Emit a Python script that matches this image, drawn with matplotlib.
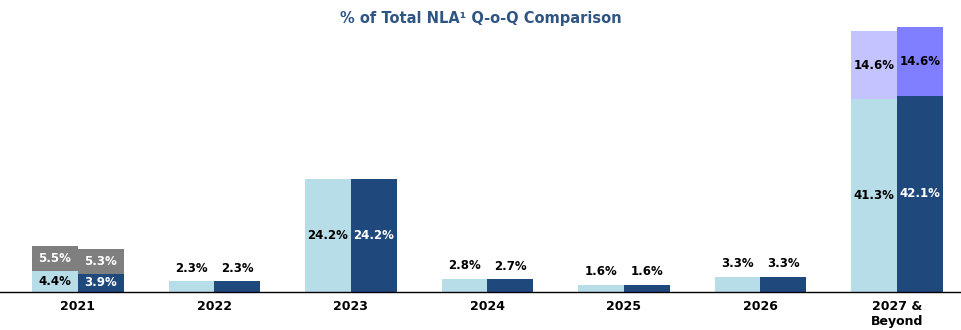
import matplotlib
matplotlib.use("Agg")
import matplotlib.pyplot as plt
import numpy as np

categories = ["2021", "2022", "2023", "2024", "2025", "2026", "2027 &\nBeyond"]
prev_base = [4.4, 2.3, 24.2, 2.8, 1.6, 3.3, 41.3]
curr_base = [3.9, 2.3, 24.2, 2.7, 1.6, 3.3, 42.1]
prev_top = [5.5, 0, 0, 0, 0, 0, 14.6]
curr_top = [5.3, 0, 0, 0, 0, 0, 14.6]

c_light = "#B7DDE8"
c_dark = "#1F497D"
c_grey = "#7F7F7F"
c_lav = "#C3C3FF"
c_purp = "#7F7FFF"

fig = plt.figure(figsize=(9.61, 3.30), dpi=100)
ax = fig.add_axes([0, 1 - 292 / 330, 1, 280 / 330])
x = np.arange(len(categories))
w = 0.335

ax.bar(x - w / 2, prev_base, w, color=c_light)
ax.bar(x + w / 2, curr_base, w, color=c_dark)
top_prev_colors = [c_grey] + [c_lav] * 6
top_curr_colors = [c_grey] + [c_purp] * 6
ax.bar(x - w / 2, prev_top, w, bottom=prev_base, color=top_prev_colors)
ax.bar(x + w / 2, curr_top, w, bottom=curr_base, color=top_curr_colors)

fs = 8.5
for i in range(len(categories)):
    for xs, v, col_in in ((x[i] - w / 2, prev_base[i], "black"), (x[i] + w / 2, curr_base[i], "white")):
        if v >= 8 or i == 0:
            ax.text(xs, v / 2, f"{v:.1f}%", ha="center", va="center", fontsize=fs,
                    fontweight="bold", color=col_in)
        else:
            ax.text(xs, v + 2.8, f"{v:.1f}%", ha="center", va="center", fontsize=fs,
                    fontweight="bold", color="black")
    for xs, b, v in ((x[i] - w / 2, prev_base[i], prev_top[i]), (x[i] + w / 2, curr_base[i], curr_top[i])):
        if v > 0:
            col = "white" if i == 0 else "black"
            ax.text(xs, b + v / 2, f"{v:.1f}%", ha="center", va="center", fontsize=fs,
                    fontweight="bold", color=col)

ax.set_xlim(-0.57, 6.47)
ax.set_ylim(0, 60)
for s in ("top", "right", "left"):
    ax.spines[s].set_visible(False)
ax.spines["bottom"].set_color("black")
ax.spines["bottom"].set_linewidth(1.0)
ax.set_yticks([])
ax.set_xticks(x)
ax.set_xticklabels(categories, fontsize=9, fontweight="bold")
ax.tick_params(axis="x", length=0, pad=6)

fig.text(0.5, 1 - 18 / 330, "% of Total NLA¹ Q-o-Q Comparison", ha="center", va="center",
         fontsize=10.5, fontweight="bold", color="#2F5583")

fig.savefig("out.png", dpi=100)
